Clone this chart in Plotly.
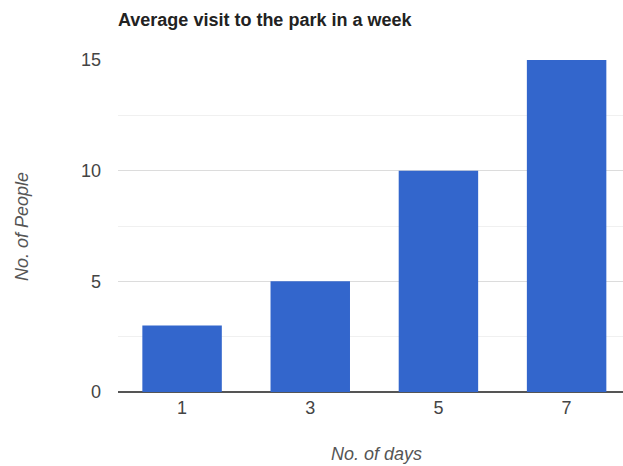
import plotly.graph_objects as go

# Days per week and number of people
days = ["1", "3", "5", "7"]
people = [3, 5, 10, 15]
y_ticks = [0, 5, 10, 15]

BAR_COLOR = "#3366cc"
FONT = "Liberation Sans, Arial, sans-serif"

fig = go.Figure(
    go.Bar(
        x=days,
        y=people,
        marker=dict(color=BAR_COLOR, line=dict(width=0)),
        hoverinfo="x+y",
    )
)

fig.update_layout(
    width=623,
    height=466,
    margin=dict(l=118, r=0, t=60, b=74),
    paper_bgcolor="white",
    plot_bgcolor="white",
    bargap=0.38,
    showlegend=False,
    font=dict(family=FONT, size=18, color="#444444"),
    title=dict(
        text="<b>Average visit to the park in a week</b>",
        x=118 / 623,
        xanchor="left",
        y=1 - 20 / 466,
        yanchor="middle",
        font=dict(family=FONT, size=18, color="#222222"),
    ),
)

fig.update_xaxes(
    type="category",
    range=[-0.5, 3.44],
    showgrid=False,
    showline=False,
    ticks="",
    tickfont=dict(size=18, color="#444444"),
    ticklabelstandoff=3,
)

fig.update_yaxes(
    range=[0, 15],
    tickvals=y_ticks,
    ticktext=[str(v) for v in y_ticks],
    showgrid=True,
    gridcolor="#dcdcdc",
    gridwidth=1,
    minor=dict(dtick=2.5, showgrid=True, gridcolor="#f0f0f0", gridwidth=1),
    zeroline=True,
    zerolinecolor="#555555",
    zerolinewidth=1.5,
    showline=False,
    ticks="",
    tickfont=dict(size=18, color="#444444"),
    ticklabelstandoff=16,
)

# Axis titles
fig.add_annotation(
    text="<i>No. of days</i>",
    xref="paper", yref="paper",
    x=(376 - 118) / (623 - 118),
    y=-(454 - 392) / 332,
    xanchor="center", yanchor="middle",
    showarrow=False,
    font=dict(family=FONT, size=18, color="#555555"),
)
fig.add_annotation(
    text="<i>No. of People</i>",
    xref="paper", yref="paper",
    x=-(118 - 22) / (623 - 118),
    y=(392 - 227) / 332,
    xanchor="center", yanchor="middle",
    textangle=-90,
    showarrow=False,
    font=dict(family=FONT, size=18, color="#555555"),
)

fig.write_html("out.html")
